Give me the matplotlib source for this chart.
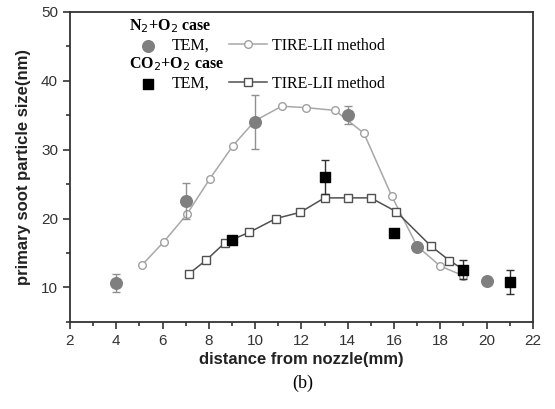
import matplotlib

matplotlib.use("Agg")
import matplotlib.pyplot as plt
from matplotlib.ticker import MultipleLocator

# N2+O2 case
n2_tem_x = [4, 7, 10, 14, 17, 20]
n2_tem_y = [10.6, 22.6, 34.0, 35.0, 15.8, 11.0]
n2_tem_err = [1.3, 2.6, 3.9, 1.3, 0.0, 0.0]
n2_lii_x = [5.1, 6.05, 7.05, 8.05, 9.05, 10.0, 11.15, 12.2, 13.45, 14.7, 15.9, 17.0, 18.0, 19.0]
n2_lii_y = [13.2, 16.6, 20.6, 25.8, 30.6, 34.2, 36.3, 36.1, 35.7, 32.4, 23.3, 16.0, 13.1, 11.7]

# CO2+O2 case
co2_tem_x = [9, 13, 16, 19, 21]
co2_tem_y = [16.9, 26.0, 17.9, 12.6, 10.8]
co2_tem_err = [0.0, 2.5, 0.0, 1.4, 1.7]
co2_lii_x = [7.15, 7.9, 8.7, 9.75, 10.9, 11.95, 13.0, 14.0, 15.0, 16.1, 17.6, 18.4, 19.0]
co2_lii_y = [12.0, 14.0, 16.5, 18.0, 20.0, 20.9, 23.0, 23.0, 23.0, 21.0, 16.0, 13.9, 12.6]

SANS = "Liberation Sans"
SERIF = "Liberation Serif"

fig = plt.figure(figsize=(5.55, 4.09), dpi=100)
ax = fig.add_axes([0.126, 0.213, 0.834, 0.758])

(n2_line,) = ax.plot(n2_lii_x, n2_lii_y, "-", color="#a8a8a8", lw=1.1,
                     marker="o", ms=5.5, mfc="white", mec="#a0a0a0", mew=1.0, zorder=2)
(co2_line,) = ax.plot(co2_lii_x, co2_lii_y, "-", color="#505050", lw=1.1,
                      marker="s", ms=5.5, mfc="white", mec="#505050", mew=1.0, zorder=2)

ax.errorbar(n2_tem_x, n2_tem_y, yerr=n2_tem_err, fmt="none", ecolor="#909090",
            elinewidth=1.0, capsize=3, capthick=1.0, zorder=3)
n2_tem = ax.scatter(n2_tem_x, n2_tem_y, s=70, marker="o", color="#7f7f7f", zorder=4)
ax.errorbar(co2_tem_x, co2_tem_y, yerr=co2_tem_err, fmt="none", ecolor="#303030",
            elinewidth=1.0, capsize=3, capthick=1.0, zorder=3)
co2_tem = ax.scatter(co2_tem_x, co2_tem_y, s=60, marker="s", color="black", zorder=4)

ax.set_xlim(2, 22)
ax.set_ylim(5, 50)
ax.xaxis.set_major_locator(MultipleLocator(2))
ax.xaxis.set_minor_locator(MultipleLocator(1))
ax.yaxis.set_major_locator(MultipleLocator(10))
ax.yaxis.set_minor_locator(MultipleLocator(5))
ax.set_yticks([10, 20, 30, 40, 50])
ax.tick_params(which="both", direction="out", top=False, right=False,
               color="#333333", width=1.2)
ax.tick_params(which="major", length=5, labelsize=11, labelcolor="#333333")
ax.tick_params(which="minor", length=3)
for label in ax.get_xticklabels() + ax.get_yticklabels():
    label.set_family(SANS)
for spine in ax.spines.values():
    spine.set_color("#333333")
    spine.set_linewidth(1.3)

ax.set_xlabel("distance from nozzle(mm)", family=SANS, fontweight="bold",
              fontsize=12, color="#222222", labelpad=3)
ax.set_ylabel("primary soot particle size(nm)", family=SANS, fontweight="bold",
              fontsize=12, color="#222222", labelpad=7)

legend_kw = dict(ncol=2, frameon=False, handlelength=2.4, handletextpad=0.3,
                 columnspacing=1.2, alignment="left", borderaxespad=0,
                 borderpad=0, labelspacing=0.2,
                 prop={"family": SERIF, "size": 11.5},
                 title_fontproperties={"family": SERIF, "size": 11.5, "weight": "bold"})
leg1 = ax.legend([n2_tem, n2_line], ["TEM,", "TIRE-LII method"],
                 title="N$_2$+O$_2$ case", loc="upper left",
                 bbox_to_anchor=(0.127, 0.984), **legend_kw)
ax.add_artist(leg1)
ax.legend([co2_tem, co2_line], ["TEM,", "TIRE-LII method"],
          title="CO$_2$+O$_2$ case", loc="upper left",
          bbox_to_anchor=(0.127, 0.861), **legend_kw)

fig.text(0.546, 0.063, "(b)", family=SERIF, fontsize=13, ha="center", va="center")

fig.savefig("out.png", dpi=100)
plt.close(fig)
